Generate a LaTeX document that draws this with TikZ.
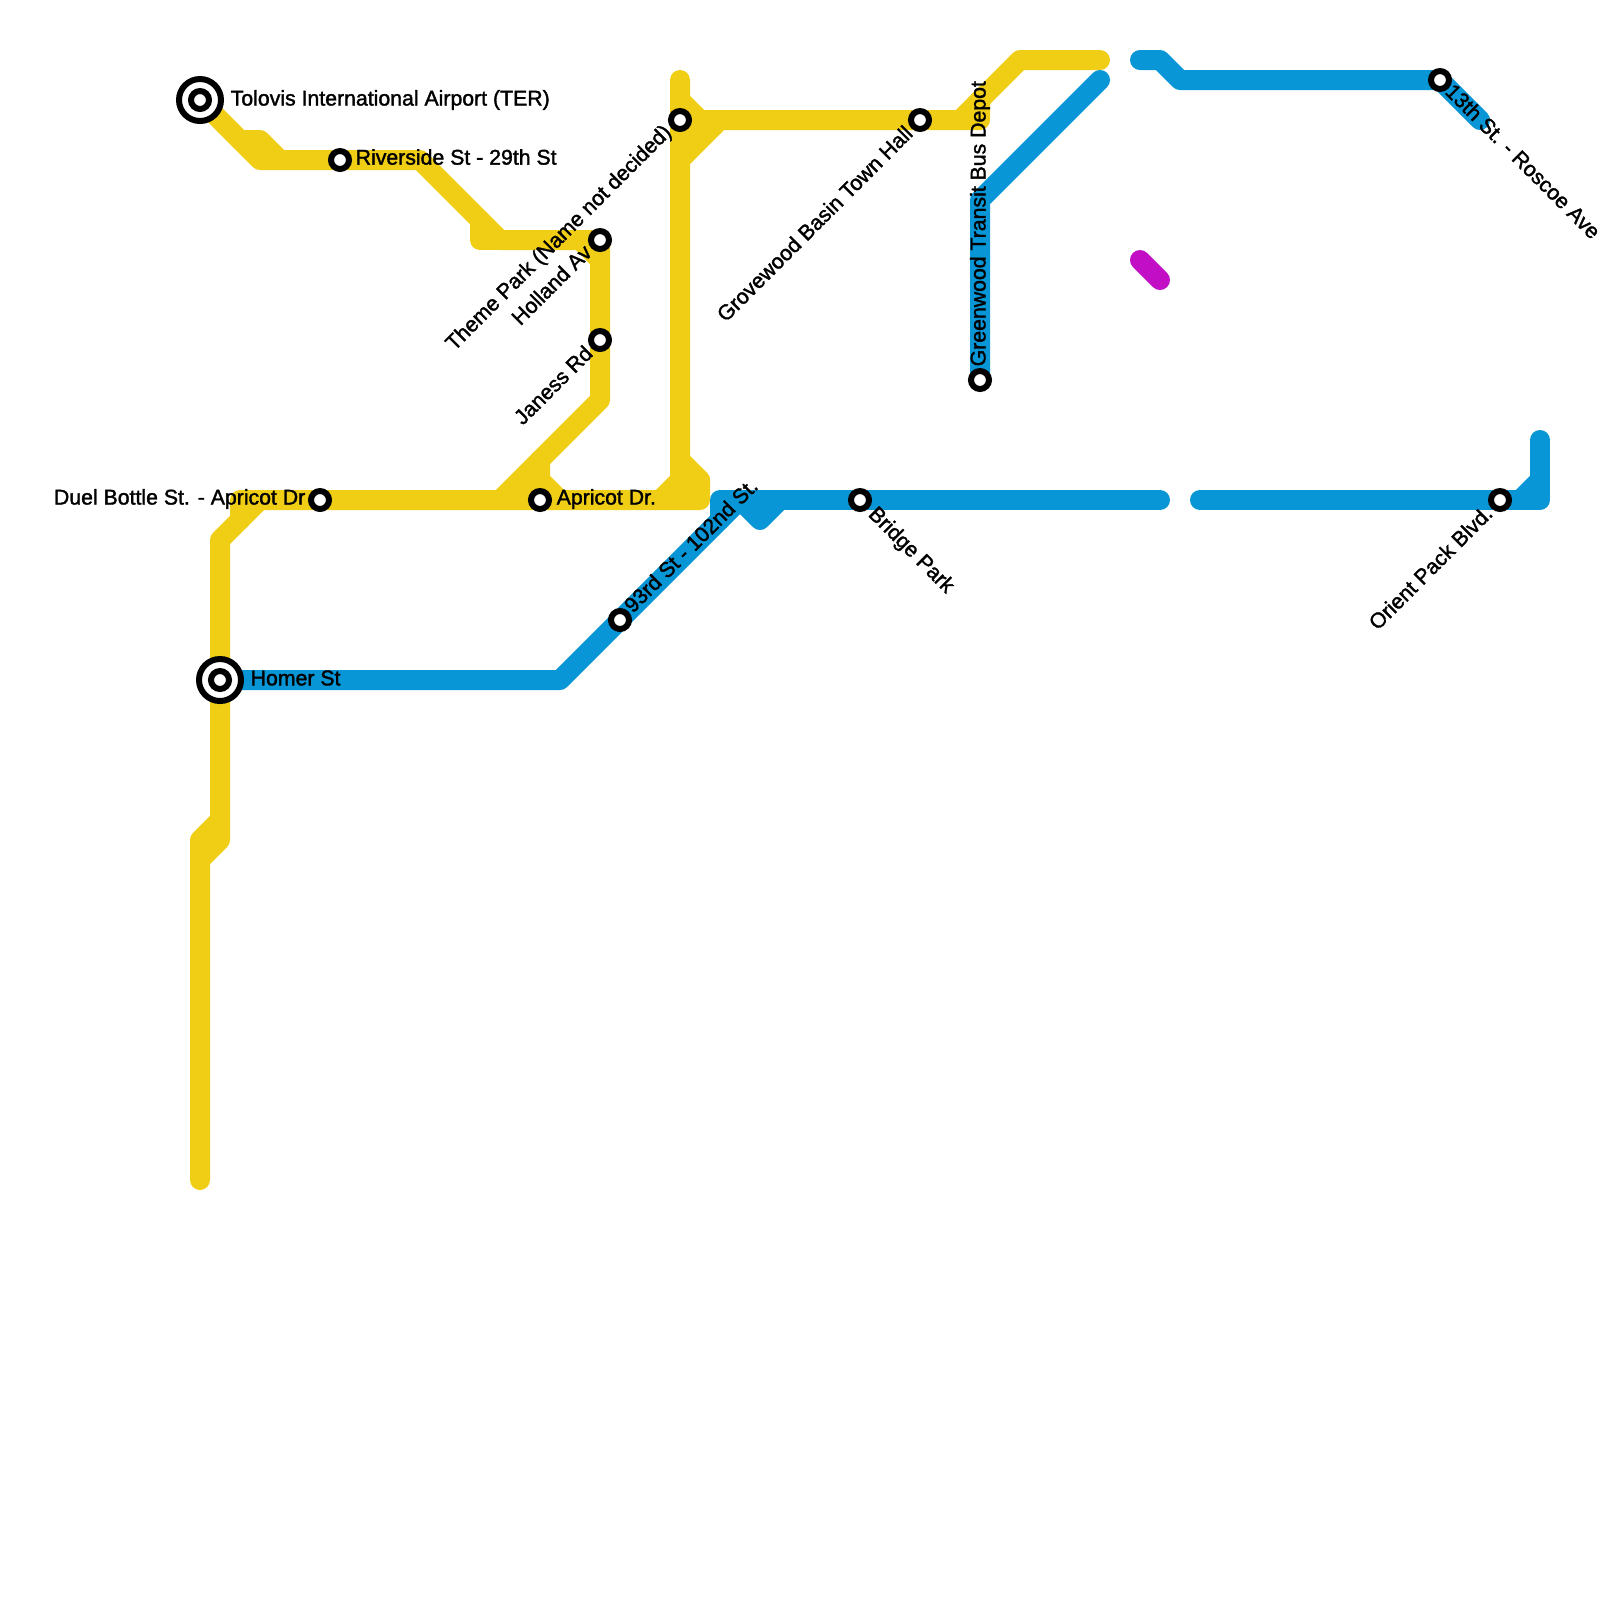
\documentclass[tikz,border=0pt]{standalone}
\usepackage{fontspec}
\setmainfont{Liberation Sans}[RawFeature={embolden=1.6}]
\usetikzlibrary{backgrounds}
\definecolor{lineyellow}{HTML}{F0CE15}
\definecolor{lineblue}{HTML}{0896D7}
\definecolor{linepurple}{HTML}{C20FC6}
\tikzset{
  metro/.style={line width=2mm,line cap=round,line join=round},
  stn/.style={circle,draw=black,fill=white,line width=0.6mm,minimum size=1.8mm,inner sep=0pt},
  hub/.style={circle,draw=black,fill=white,line width=0.6mm,minimum size=4.2mm,inner sep=0pt},
  lbl/.style={inner sep=0pt,font=\fontsize{6.05}{7}\selectfont,text=black}
}
\begin{document}
\begin{tikzpicture}[x=0.2cm,y=-0.2cm]
\useasboundingbox (0,0) rectangle (80,80);
% interchange rings
\node[hub] (airportring) at (10,5) {};
\node[hub] (homerring) at (11,34) {};
% stations
\foreach \nm/\px/\py in {airport/10/5,homer/11/34,riverside/17/8,duel/16/25,apricot/27/25,holland/30/12,janess/30/17,themepark/34/6,grovewood/46/6,greenwood/49/19,ninetythird/31/31,bridgepark/43/25,thirteenth/72/4,orient/75/25}
  \node[stn] (\nm) at (\px,\py) {};
% yellow line
\begin{pgfonlayer}{background}
\draw[metro,lineyellow] (airport.center)--(13,8)--(riverside.center)--(21,8)--(25,12)--(holland.center)--(30,20)--(25,25);
\draw[metro,lineyellow] (12,7)--(13,7)--(14,8);
\draw[metro,lineyellow] (24,11)--(24,12)--(25,12);
\draw[metro,lineyellow] (29,12)--(30,13);
\draw[metro,lineyellow] (27,23)--(27,24)--(28,25);
\draw[metro,lineyellow] (26,25)--(27,24);
\draw[metro,lineyellow] (12,26)--(12,25)--(duel.center)--(35,25)--(35,24)--(34,23);
\draw[metro,lineyellow] (33,25)--(34,24)--(themepark.center)--(34,4);
\draw[metro,lineyellow] (34,25)--(35,24);
\draw[metro,lineyellow] (34,5)--(35,6)--(grovewood.center)--(49,6)--(49,5);
\draw[metro,lineyellow] (34,8)--(36,6);
\draw[metro,lineyellow] (34,7)--(35,6);
\draw[metro,lineyellow] (48,6)--(51,3)--(55,3);
\draw[metro,lineyellow] (13,25)--(11,27)--(homer.center)--(11,42)--(10,43)--(10,59);
\draw[metro,lineyellow] (11,41)--(10,42)--(10,43);
% blue line
\draw[metro,lineblue] (homer.center)--(28,34)--(ninetythird.center)--(37,25);
\draw[metro,lineblue] (36,26)--(36,25)--(58,25);
\draw[metro,lineblue] (37,25)--(38,26)--(39,25);
\draw[metro,lineblue] (60,25)--(orient.center)--(77,25)--(77,22);
\draw[metro,lineblue] (76,25)--(77,24);
\draw[metro,lineblue] (55,4)--(49,10)--(greenwood.center);
\draw[metro,lineblue] (57,3)--(58,3)--(59,4)--(thirteenth.center)--(74,6);
% purple stub
\draw[metro,linepurple] (57,13)--(58,14);
\end{pgfonlayer}
% labels
\node[lbl,anchor=west] (airportlbl) at (11.5,5.0) {Tolovis International Airport (TER)};
\node[lbl,anchor=west] (riversidelbl) at (17.75,7.85) {Riverside St - 29th St};
\node[lbl,anchor=west] (homerlbl) at (12.5,33.9) {Homer St};
\node[lbl,anchor=west] (apricotlbl) at (27.8,24.95) {Apricot Dr.};
\node[lbl,anchor=east] (duellbl) at (15.3,24.95) {Duel Bottle St. - Apricot Dr};
\node[lbl,anchor=east,rotate=45] (themeparklbl) at (33.45,6.45) {Theme Park (Name not decided)};
\node[lbl,anchor=east,rotate=45] (hollandlbl) at (29.4,12.4) {Holland Av};
\node[lbl,anchor=east,rotate=45] (janesslbl) at (29.45,17.45) {Janess Rd};
\node[lbl,anchor=east,rotate=45] (grovewoodlbl) at (45.45,6.45) {Grovewood Basin Town Hall};
\node[lbl,anchor=east,rotate=45] (orientlbl) at (74.45,25.45) {Orient Pack Blvd.};
\node[lbl,anchor=west,rotate=45] (ninetythirdlbl) at (31.35,30.45) {93rd St - 102nd St.};
\node[lbl,anchor=west,rotate=-45] (bridgeparklbl) at (43.55,25.55) {Bridge Park};
\node[lbl,anchor=west,rotate=-45] (thirteenthlbl) at (72.45,4.35) {13th St. - Roscoe Ave};
\node[lbl,anchor=west,rotate=90] (greenwoodlbl) at (49,18.35) {Greenwood Transit Bus Depot};
\end{tikzpicture}
\end{document}
